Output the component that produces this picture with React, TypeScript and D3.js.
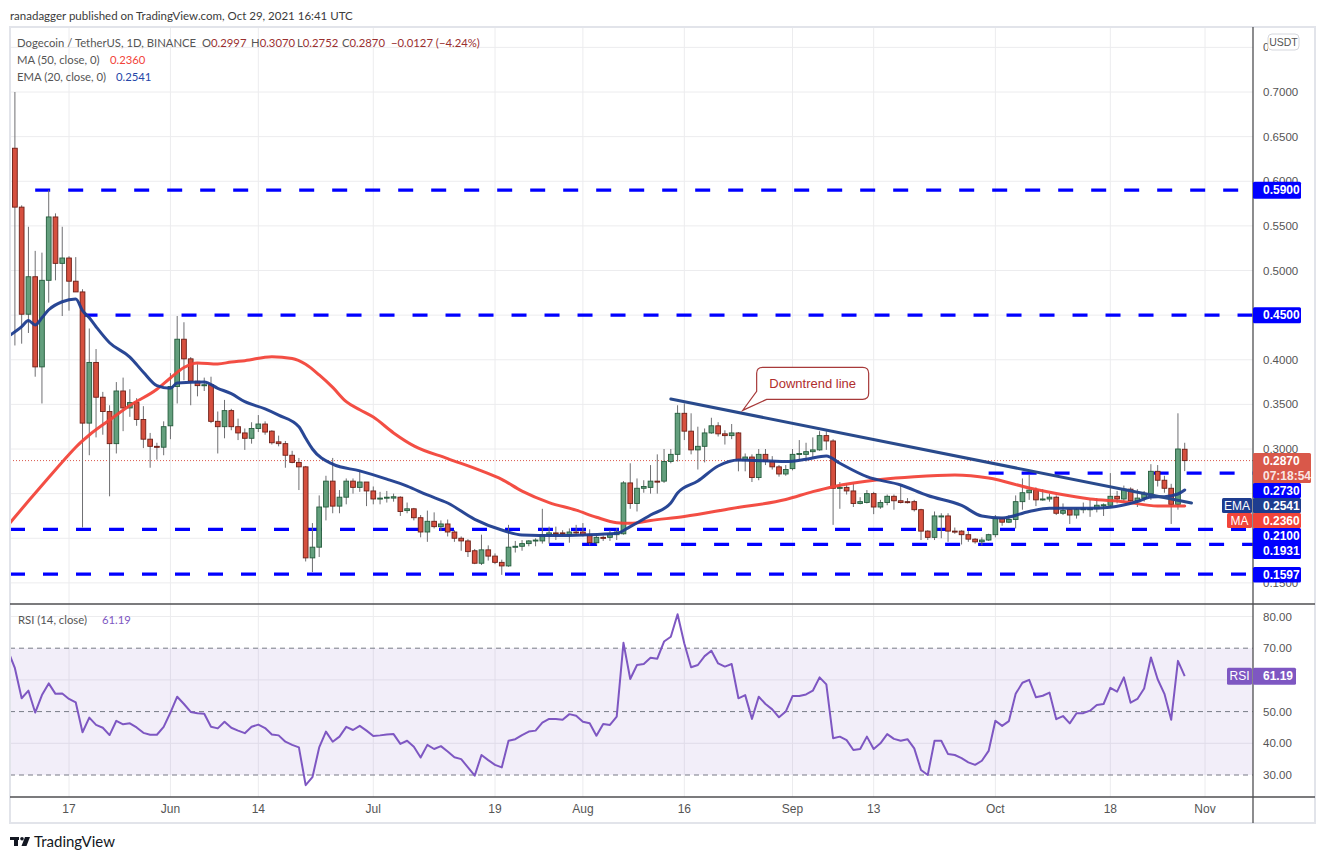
import React from "react";
import * as d3 from "d3";

// ---------------- DATA ----------------
const FIRST_DAY = "2021-05-08";
// daily candles [open, high, low, close], from FIRST_DAY
const ohlc: number[][] = [
  [0.690,0.700,0.630,0.637],[0.637,0.700,0.416,0.571],[0.571,0.573,0.418,0.451],[0.451,0.549,0.430,0.493],
  [0.493,0.522,0.381,0.392],[0.392,0.520,0.351,0.489],[0.489,0.590,0.464,0.560],[0.560,0.564,0.489,0.508],
  [0.508,0.549,0.449,0.514],[0.514,0.516,0.455,0.488],[0.488,0.515,0.476,0.476],[0.476,0.479,0.212,0.329],
  [0.329,0.435,0.293,0.397],[0.397,0.412,0.313,0.358],[0.358,0.364,0.316,0.342],[0.342,0.349,0.247,0.306],
  [0.306,0.375,0.295,0.365],[0.365,0.380,0.320,0.346],[0.346,0.367,0.336,0.352],[0.352,0.357,0.326,0.333],
  [0.333,0.348,0.301,0.311],[0.311,0.318,0.279,0.303],[0.303,0.307,0.288,0.302],[0.302,0.331,0.293,0.325],
  [0.326,0.385,0.311,0.370],[0.370,0.449,0.351,0.423],[0.423,0.442,0.377,0.401],[0.401,0.403,0.349,0.376],
  [0.376,0.395,0.359,0.371],[0.371,0.380,0.365,0.372],[0.372,0.381,0.329,0.331],[0.331,0.342,0.295,0.325],
  [0.325,0.355,0.312,0.343],[0.343,0.345,0.321,0.325],[0.325,0.334,0.310,0.318],[0.318,0.323,0.299,0.312],
  [0.312,0.330,0.306,0.323],[0.323,0.338,0.319,0.328],[0.328,0.331,0.316,0.319],[0.320,0.321,0.305,0.307],
  [0.308,0.315,0.303,0.306],[0.306,0.309,0.279,0.293],[0.293,0.298,0.284,0.285],[0.285,0.290,0.254,0.280],
  [0.280,0.281,0.174,0.178],[0.178,0.217,0.162,0.190],[0.190,0.248,0.179,0.235],[0.235,0.270,0.220,0.264],
  [0.264,0.290,0.228,0.236],[0.236,0.254,0.228,0.246],[0.246,0.267,0.238,0.264],[0.264,0.267,0.250,0.257],
  [0.257,0.276,0.252,0.263],[0.263,0.263,0.236,0.253],[0.253,0.258,0.238,0.244],[0.244,0.252,0.238,0.245],
  [0.245,0.253,0.240,0.246],[0.245,0.250,0.241,0.2465],[0.246,0.247,0.225,0.230],[0.231,0.240,0.228,0.233],
  [0.233,0.234,0.220,0.223],[0.223,0.226,0.201,0.207],[0.207,0.231,0.196,0.219],[0.219,0.229,0.211,0.213],
  [0.213,0.220,0.208,0.216],[0.216,0.221,0.202,0.207],[0.207,0.209,0.196,0.200],[0.200,0.202,0.186,0.197],
  [0.197,0.199,0.179,0.185],[0.186,0.188,0.171,0.172],[0.172,0.204,0.170,0.187],[0.187,0.192,0.175,0.180],
  [0.180,0.183,0.171,0.173],[0.173,0.176,0.159,0.169],[0.169,0.215,0.168,0.190],[0.190,0.197,0.184,0.191],
  [0.191,0.198,0.186,0.194],[0.194,0.198,0.191,0.197],[0.197,0.200,0.191,0.198],[0.197,0.233,0.194,0.204],
  [0.204,0.213,0.194,0.206],[0.206,0.213,0.198,0.205],[0.206,0.209,0.203,0.205],[0.204,0.211,0.195,0.207],
  [0.207,0.215,0.203,0.206],[0.207,0.217,0.202,0.204],[0.204,0.210,0.192,0.195],[0.195,0.203,0.193,0.201],
  [0.201,0.203,0.197,0.2005],[0.201,0.209,0.197,0.205],[0.204,0.211,0.198,0.207],[0.205,0.264,0.204,0.262],
  [0.262,0.284,0.233,0.239],[0.239,0.267,0.230,0.256],[0.256,0.265,0.251,0.258],[0.257,0.282,0.250,0.264],
  [0.264,0.294,0.250,0.263],[0.264,0.300,0.262,0.286],[0.286,0.300,0.284,0.294],[0.294,0.349,0.286,0.340],
  [0.340,0.351,0.310,0.320],[0.320,0.340,0.294,0.299],[0.299,0.325,0.277,0.303],[0.303,0.323,0.285,0.318],
  [0.318,0.335,0.317,0.326],[0.326,0.330,0.314,0.317],[0.317,0.321,0.305,0.315],[0.315,0.328,0.311,0.318],
  [0.318,0.319,0.275,0.288],[0.288,0.295,0.275,0.291],[0.291,0.294,0.263,0.268],[0.268,0.300,0.265,0.294],
  [0.294,0.300,0.282,0.286],[0.286,0.292,0.277,0.280],[0.280,0.282,0.269,0.272],[0.272,0.282,0.270,0.277],
  [0.278,0.300,0.276,0.294],[0.294,0.310,0.288,0.295],[0.294,0.307,0.286,0.297],[0.297,0.313,0.291,0.299],
  [0.299,0.320,0.298,0.315],[0.315,0.320,0.299,0.309],[0.309,0.311,0.215,0.256],[0.256,0.263,0.233,0.257],
  [0.257,0.261,0.249,0.253],[0.253,0.261,0.235,0.239],[0.239,0.246,0.238,0.241],[0.240,0.254,0.239,0.250],
  [0.250,0.252,0.227,0.235],[0.235,0.243,0.233,0.240],[0.240,0.249,0.237,0.247],[0.247,0.249,0.232,0.242],
  [0.242,0.260,0.239,0.240],[0.241,0.245,0.239,0.240],[0.241,0.243,0.230,0.232],[0.232,0.233,0.198,0.208],
  [0.208,0.209,0.198,0.201],[0.201,0.230,0.198,0.225],[0.224,0.228,0.200,0.225],[0.225,0.228,0.196,0.208],
  [0.208,0.212,0.205,0.207],[0.208,0.209,0.193,0.204],[0.204,0.208,0.196,0.199],[0.199,0.200,0.194,0.196],
  [0.196,0.201,0.192,0.198],[0.198,0.205,0.197,0.204],[0.204,0.226,0.201,0.222],[0.222,0.224,0.214,0.218],
  [0.218,0.226,0.217,0.221],[0.221,0.248,0.211,0.241],[0.241,0.267,0.232,0.251],[0.251,0.271,0.243,0.254],
  [0.254,0.257,0.236,0.243],[0.243,0.255,0.242,0.244],[0.244,0.250,0.241,0.246],[0.246,0.248,0.226,0.228],
  [0.228,0.239,0.226,0.231],[0.232,0.233,0.216,0.226],[0.226,0.234,0.222,0.232],[0.232,0.240,0.228,0.233],
  [0.232,0.243,0.224,0.233],[0.233,0.245,0.229,0.237],[0.237,0.239,0.225,0.2375],[0.237,0.273,0.235,0.247],
  [0.247,0.253,0.239,0.244],[0.244,0.259,0.241,0.255],[0.255,0.257,0.241,0.242],[0.242,0.255,0.235,0.245],
  [0.245,0.253,0.241,0.250],[0.250,0.283,0.243,0.275],[0.275,0.282,0.258,0.265],[0.265,0.270,0.251,0.256],
  [0.256,0.261,0.216,0.238],[0.238,0.340,0.232,0.300],[0.2997,0.3070,0.2752,0.2870],
];

// RSI(14) daily values, from FIRST_DAY
const rsiValues: number[] = [
  69.1,63.7,54.2,56.6,49.7,55.2,58.9,55.6,55.7,54.0,52.9,43.5,48.1,45.8,44.9,42.6,47.1,46.0,46.3,45.0,
  43.3,42.7,42.7,45.2,49.7,54.7,52.4,49.9,49.5,49.3,45.2,44.7,46.8,44.9,44.0,43.2,45.2,45.9,44.8,42.8,
  42.5,40.5,39.5,38.7,26.8,29.3,38.7,43.7,40.5,42.1,45.2,44.2,45.5,44.0,42.3,42.5,42.8,42.9,39.8,40.8,
  38.9,35.5,39.5,38.2,39.1,37.4,35.6,35.0,32.4,29.8,36.3,34.7,33.2,32.4,40.8,41.3,42.6,43.7,44.0,46.5,
  47.7,47.7,47.4,49.2,48.7,46.8,46.3,42.4,46.1,45.8,48.4,71.7,60.3,64.7,65.0,67.0,66.7,72.1,73.6,80.7,
  71.5,64.0,64.7,67.5,69.2,65.2,64.2,65.0,54.2,55.2,47.7,54.7,52.4,50.7,48.2,50.0,54.9,54.9,55.4,56.6,
  60.8,58.6,41.6,42.1,41.0,37.9,38.2,42.1,38.2,40.0,42.9,41.4,40.8,41.3,38.4,31.6,30.0,40.8,40.8,36.6,
  36.3,35.3,34.0,33.2,34.5,37.6,47.1,45.5,47.0,55.6,59.1,60.0,54.5,55.0,56.0,47.6,48.6,46.3,49.5,49.5,
  50.3,52.1,52.4,57.5,56.3,60.8,52.8,54.0,57.3,67.1,60.2,55.6,47.4,66.0,61.19,
];

// EMA(20)
const emaPoints: [string, number][] = [
  ["2021-05-08",0.426],["2021-05-10",0.437],["2021-05-11",0.444],["2021-05-12",0.439],["2021-05-13",0.447],
  ["2021-05-14",0.456],["2021-05-16",0.465],["2021-05-18",0.468],["2021-05-19",0.455],["2021-05-20",0.447],
  ["2021-05-21",0.437],["2021-05-23",0.419],["2021-05-26",0.403],["2021-05-28",0.386],["2021-05-30",0.371],
  ["2021-06-01",0.368],["2021-06-02",0.374],["2021-06-06",0.375],["2021-06-08",0.368],["2021-06-10",0.362],
  ["2021-06-12",0.353],["2021-06-15",0.345],["2021-06-17",0.338],["2021-06-20",0.325],["2021-06-21",0.312],
  ["2021-06-22",0.300],["2021-06-25",0.283],["2021-06-29",0.2755],["2021-07-03",0.2663],
  ["2021-07-06",0.2585],["2021-07-09",0.2485],["2021-07-12",0.2395],["2021-07-16",0.2212],["2021-07-20",0.2092],
  ["2021-07-23",0.2036],["2021-07-28",0.2030],["2021-08-01",0.2036],["2021-08-06",0.2055],["2021-08-08",0.213],
  ["2021-08-11",0.226],["2021-08-14",0.2395],["2021-08-15",0.2507],["2021-08-18",0.2641],["2021-08-21",0.281],
  ["2021-08-24",0.2877],["2021-08-31",0.286],["2021-09-03",0.2885],["2021-09-06",0.2922],["2021-09-08",0.284],
  ["2021-09-12",0.269],["2021-09-17",0.2597],["2021-09-21",0.2479],["2021-09-26",0.2367],["2021-09-29",0.2249],
  ["2021-10-02",0.2227],["2021-10-06",0.230],["2021-10-09",0.2336],["2021-10-15",0.2336],["2021-10-18",0.2347],
  ["2021-10-22",0.2412],["2021-10-24",0.2462],["2021-10-26",0.2466],["2021-10-28",0.2496],["2021-10-29",0.2541],
];

// MA(50)
const maPoints: [string, number][] = [
  ["2021-05-08",0.2148],["2021-05-11",0.2417],["2021-05-14",0.268],["2021-05-17",0.2938],["2021-05-18",0.302],
  ["2021-05-20",0.3157],["2021-05-23",0.3325],["2021-05-26",0.3487],["2021-05-30",0.3669],["2021-06-01",0.3796],
  ["2021-06-03",0.3913],["2021-06-05",0.3964],["2021-06-08",0.3952],["2021-06-10",0.3975],["2021-06-12",0.399],
  ["2021-06-16",0.4035],["2021-06-19",0.4015],["2021-06-21",0.395],["2021-06-23",0.383],["2021-06-25",0.369],
  ["2021-06-27",0.353],["2021-06-29",0.344],["2021-07-01",0.3358],["2021-07-04",0.318],["2021-07-07",0.3035],
  ["2021-07-12",0.2893],["2021-07-17",0.2755],["2021-07-20",0.266],["2021-07-23",0.2528],["2021-07-27",0.240],
  ["2021-07-31",0.2315],["2021-08-03",0.2235],["2021-08-06",0.2174],["2021-08-08",0.2167],["2021-08-11",0.2199],
  ["2021-08-16",0.2244],["2021-08-23",0.2333],["2021-08-31",0.2434],["2021-09-04",0.2522],["2021-09-07",0.2578],
  ["2021-09-14",0.2658],["2021-09-19",0.269],["2021-09-25",0.2709],["2021-09-30",0.2675],["2021-10-06",0.2563],
  ["2021-10-10",0.2501],["2021-10-15",0.244],["2021-10-20",0.241],["2021-10-25",0.2361],["2021-10-29",0.2360],
];

// horizontal support / resistance levels and the date they start
const levelValues = [0.59, 0.45, 0.273, 0.21, 0.1931, 0.1597];
const levelStarts = ["2021-05-12", "2021-05-19", "2021-09-30", "2021-05-08", "2021-07-27", "2021-05-08"];

// downtrend line end points
const trendDates = ["2021-08-14", "2021-10-30"];
const trendValues = [0.356, 0.2395];

const priceTicks = [0.15,0.2,0.25,0.3,0.35,0.4,0.45,0.5,0.55,0.6,0.65,0.7,0.75];
const rsiTicks = [80, 70, 60, 50, 40, 30];
const rsiBands = [70, 50, 30];
const rsiGrid = [80, 60, 40];
const timeTickDates = ["2021-05-17","2021-06-01","2021-06-14","2021-07-01","2021-07-19","2021-08-01",
  "2021-08-16","2021-09-01","2021-09-13","2021-10-01","2021-10-18","2021-11-01"];
const timeTickLabels = ["17","Jun","14","Jul","19","Aug","16","Sep","13","Oct","18","Nov"];

const lastPrice = 0.287;
const maLast = 0.236;
const emaLast = 0.2541;
const rsiLast = 61.19;

// ---------------- LAYOUT ----------------
const W = 1325, H = 859;
const L = 10, R = 1253, T = 27, MB = 604, RB = 797, FR = 1315, FB = 823;
const FONT = "'Liberation Sans', Arial, sans-serif";
const LFONT = "Lato, 'Liberation Sans', sans-serif";
const LS = 11.3; // legend font size
const GRID = "#ececee";
const LEVEL_BLUE = "#0000ff";
const EMA_C = "#1e3d8f";
const MA_C = "#f2443a";
const RSI_C = "#7e57c2";
const UP_F = "#639f7d", UP_S = "#245c3c", DN_F = "#d6503f", DN_S = "#6d1f17";

export default function App() {
  const parse = d3.utcParse("%Y-%m-%d");
  const P = (s: string) => parse(s) as Date;
  const first = P(FIRST_DAY);
  const x = d3.scaleUtc().domain([P("2021-05-17"), P("2021-11-01")]).range([69, 1205]);
  const y = d3.scaleLinear().domain([0.3, 0.7]).range([449, 92]);
  const yR = d3.scaleLinear().domain([30, 80]).range([775, 616.5]);
  const dayX = (i: number) => x(d3.utcDay.offset(first, i));
  const step = dayX(1) - dayX(0);
  const bw = step * 0.7;

  const emaPath = d3.line<[string, number]>().x(d => x(P(d[0]))).y(d => y(d[1])).curve(d3.curveMonotoneX)(emaPoints) || "";
  const maPath = d3.line<[string, number]>().x(d => x(P(d[0]))).y(d => y(d[1])).curve(d3.curveMonotoneX)(maPoints) || "";
  const rsiPath = d3.line<number>().x((_, i) => dayX(i)).y(d => yR(d)).curve(d3.curveLinear)(rsiValues) || "";

  const t0x = x(P(trendDates[0])), t0y = y(trendValues[0]);
  const t1x = x(P(trendDates[1])), t1y = y(trendValues[1]);
  // callout tip on the trend line
  const tipX = t0x + (t1x - t0x) * 0.138;
  const tipY = t0y + (t1y - t0y) * 0.138 - 3;
  const bL = tipX + 14, bT = tipY - 43, bR = bL + 112, bB = bT + 32, rr = 6;
  const callout = `M${bL + rr},${bT} H${bR - rr} Q${bR},${bT} ${bR},${bT + rr} V${bB - rr} Q${bR},${bB} ${bR - rr},${bB} H${bL + 10} L${tipX},${tipY} L${bL},${bB - 8} V${bT + rr} Q${bL},${bT} ${bL + rr},${bT} Z`;

  const fmt4 = d3.format(".4f");
  const fmt2 = d3.format(".2f");

  // price tags (stacked on the price axis)
  const tags = [
    { key: "t59", top: y(0.59) - 8.5, h: 17, color: LEVEL_BLUE, lines: [fmt4(0.59)], w: 48 },
    { key: "t45", top: y(0.45) - 8, h: 16, color: LEVEL_BLUE, lines: [fmt4(0.45)], w: 48 },
    { key: "last", top: 453, h: 30, color: "#d9584a", lines: [fmt4(lastPrice), "07:18:54"], w: 58 },
    { key: "t273", top: 483, h: 15, color: LEVEL_BLUE, lines: [fmt4(0.273)], w: 48 },
    { key: "tema", top: 498, h: 15, color: EMA_C, lines: [fmt4(emaLast)], w: 48 },
    { key: "tma", top: 513, h: 15, color: MA_C, lines: [fmt4(maLast)], w: 48 },
    { key: "t21", top: 528, h: 31, color: LEVEL_BLUE, lines: [fmt4(0.21), fmt4(0.1931)], w: 48 },
    { key: "t1597", top: 567, h: 15.5, color: LEVEL_BLUE, lines: [fmt4(0.1597)], w: 48 },
  ];
  const rsiTag = { top: yR(rsiLast) - 8.5, h: 17 };
  const hiddenBy = (yy: number, boxes: { top: number; h: number }[]) => boxes.some(b => yy > b.top + 1 && yy < b.top + b.h - 1);

  return (
    <div style={{ position: "absolute", left: 0, top: 0, width: W, height: H, background: "#fff" }}>
      <svg width={W} height={H} style={{ display: "block" }}>
        <defs>
          <clipPath id="mainClip"><rect x={L} y={T} width={R - L} height={MB - T} /></clipPath>
          <clipPath id="rsiClip"><rect x={L} y={MB} width={R - L} height={RB - MB} /></clipPath>
          <clipPath id="axisTopClip"><rect x={R} y={T} width={1268 - R} height={30} /></clipPath>
        </defs>
        <rect width={W} height={H} fill="#fff" />

        {/* header */}
        <text x={10} y={19.5} fontSize={11.5} fill="#3b3b3b" fontFamily={LFONT}>ranadagger published on TradingView.com, Oct 29, 2021 16:41 UTC</text>

        {/* grid */}
        {priceTicks.map(p => (
          <line key={"hp" + p} x1={L} x2={R} y1={y(p)} y2={y(p)} stroke={GRID} strokeWidth={1} />
        ))}
        {rsiGrid.map(v => (
          <line key={"hr" + v} x1={L} x2={R} y1={yR(v)} y2={yR(v)} stroke={GRID} strokeWidth={1} />
        ))}
        {timeTickDates.map(d => (
          <line key={"v" + d} x1={x(P(d))} x2={x(P(d))} y1={T} y2={RB} stroke={GRID} strokeWidth={1} />
        ))}

        {/* RSI pane band */}
        <rect x={L} y={yR(70)} width={R - L} height={yR(30) - yR(70)} fill={RSI_C} fillOpacity={0.1} />
        {rsiBands.map(v => (
          <line key={"rb" + v} x1={L} x2={R} y1={yR(v)} y2={yR(v)} stroke="#787b86" strokeWidth={1} strokeDasharray="5 4" />
        ))}
        <g clipPath="url(#rsiClip)">
          <path d={rsiPath} fill="none" stroke={RSI_C} strokeWidth={2} strokeLinejoin="round" />
        </g>

        {/* main pane */}
        <g clipPath="url(#mainClip)">
          {levelValues.map((v, k) => {
            const sx = Math.max(L, x(P(levelStarts[k])));
            return <line key={"lv" + v} x1={sx} x2={R} y1={y(v)} y2={y(v)} stroke={LEVEL_BLUE} strokeWidth={3.2} strokeDasharray="15 18" />;
          })}
          <line x1={L} x2={R} y1={y(lastPrice)} y2={y(lastPrice)} stroke="#d9584a" strokeWidth={1} strokeDasharray="1 2" />
          {ohlc.map((c, i) => {
            const [o, h, l, cl] = c;
            const cx = dayX(i);
            const up = cl >= o;
            const top = y(Math.max(o, cl)), bot = y(Math.min(o, cl));
            return (
              <g key={"c" + i}>
                <line x1={cx} x2={cx} y1={y(h)} y2={y(l)} stroke="#6f6f72" strokeWidth={1} />
                <rect x={cx - bw / 2} y={top} width={bw} height={Math.max(1, bot - top)}
                  fill={up ? UP_F : DN_F} stroke={up ? UP_S : DN_S} strokeWidth={0.9} />
              </g>
            );
          })}
          <path d={maPath} fill="none" stroke={MA_C} strokeWidth={3} strokeOpacity={0.95} strokeLinecap="round" />
          <path d={emaPath} fill="none" stroke={EMA_C} strokeWidth={3} strokeOpacity={0.95} strokeLinecap="round" />
          <line x1={t0x} y1={t0y} x2={t1x} y2={t1y} stroke="#294a8c" strokeWidth={3} strokeLinecap="round" />
          <path d={callout} fill="#fff" stroke="#a73a3a" strokeWidth={1.2} />
          <text x={(bL + bR) / 2} y={(bT + bB) / 2} dy="0.35em" textAnchor="middle" fontSize={13} fill="#b02e2e" fontFamily={FONT}>Downtrend line</text>
        </g>

        {/* legend */}
        <text x={17} y={46.5} fontSize={LS} fontFamily={LFONT} fill="#555">Dogecoin / TetherUS, 1D, BINANCE</text>
        {[["O", "0.2997", 202], ["H", "0.3070", 251], ["L", "0.2752", 297], ["C", "0.2870", 342]].map(([k, v, px]) => (
          <text key={k as string} x={px as number} y={46.5} fontSize={LS} fontFamily={LFONT} fill="#555">
            {k}<tspan fill="#9a2f2f">{v}</tspan>
          </text>
        ))}
        <text x={391} y={46.5} fontSize={LS} fontFamily={LFONT} fill="#9a2f2f">−0.0127 (−4.24%)</text>
        <text x={17} y={63.5} fontSize={LS} fontFamily={LFONT} fill="#555">MA (50, close, 0)</text>
        <text x={110} y={63.5} fontSize={LS} fontFamily={LFONT} fill={MA_C}>{fmt4(maLast)}</text>
        <text x={17} y={80.5} fontSize={LS} fontFamily={LFONT} fill="#555">EMA (20, close, 0)</text>
        <text x={116} y={80.5} fontSize={LS} fontFamily={LFONT} fill="#2546a8">{fmt4(emaLast)}</text>
        <text x={18} y={624} fontSize={LS} fontFamily={LFONT} fill="#555">RSI (14, close)</text>
        <text x={102} y={624} fontSize={LS} fontFamily={LFONT} fill={RSI_C}>{fmt2(rsiLast)}</text>

        {/* pane borders */}
        <rect x={L} y={T} width={FR - L} height={FB - T} fill="none" stroke="#e2e4ea" strokeWidth={2} />
        <line x1={L} x2={FR} y1={MB} y2={MB} stroke="#4f4f52" strokeWidth={1.3} />
        <line x1={L} x2={FR} y1={RB} y2={RB} stroke="#4f4f52" strokeWidth={1.3} />
        <line x1={R} x2={R} y1={T} y2={FB} stroke="#4f4f52" strokeWidth={1.3} />

        {/* price axis labels */}
        {priceTicks.filter(p => !hiddenBy(y(p), tags) && p < 0.74).map(p => (
          <text key={"pl" + p} x={1263} y={y(p)} dy="0.35em" fontSize={11.5} fill="#555" fontFamily={FONT}>{fmt4(p)}</text>
        ))}
        {/* top tick label, mostly hidden behind the currency box */}
        <g clipPath="url(#axisTopClip)">
          <text x={1263} y={y(0.75)} dy="0.35em" fontSize={11.5} fill="#555" fontFamily={FONT}>{fmt4(0.75).slice(0, 1)}</text>
        </g>
        {rsiTicks.filter(v => !hiddenBy(yR(v), [rsiTag])).map(v => (
          <text key={"rl" + v} x={1263} y={yR(v)} dy="0.35em" fontSize={11.5} fill="#555" fontFamily={FONT}>{fmt2(v)}</text>
        ))}
        {/* USDT box */}
        <rect x={1268} y={34} width={31} height={16} rx={4} fill="#fff" stroke="#d6d8de" strokeWidth={1} />
        <text x={1283.5} y={42} dy="0.35em" textAnchor="middle" fontSize={10.5} fill="#555" fontFamily={FONT}>USDT</text>

        {/* price tags */}
        {tags.map(t => (
          <g key={t.key}>
            <rect x={R} y={t.top} width={t.w} height={t.h} fill={t.color} rx={1.5} />
            {t.lines.map((s, k) => (
              <text key={k} x={R + 10} y={t.top + t.h / t.lines.length / 2 + k * (t.h / t.lines.length)} dy="0.35em" fill="#fff"
                fontSize={12} fontWeight="bold" fontFamily={FONT} opacity={k === 1 && t.key === "last" ? 0.85 : 1}>{s}</text>
            ))}
          </g>
        ))}
        <rect x={1222} y={498} width={30} height={15} fill={EMA_C} rx={1.5} />
        <text x={1237} y={505.5} dy="0.35em" textAnchor="middle" fill="#fff" fontSize={12} fontFamily={FONT}>EMA</text>
        <rect x={1227} y={513} width={25} height={15} fill={MA_C} rx={1.5} />
        <text x={1239.5} y={520.5} dy="0.35em" textAnchor="middle" fill="#fff" fontSize={12} fontFamily={FONT}>MA</text>
        {/* RSI tag */}
        <rect x={1227} y={rsiTag.top} width={25} height={rsiTag.h} fill={RSI_C} rx={1.5} />
        <text x={1239.5} y={yR(rsiLast)} dy="0.35em" textAnchor="middle" fill="#fff" fontSize={12} fontFamily={FONT}>RSI</text>
        <rect x={R} y={rsiTag.top} width={43} height={rsiTag.h} fill={RSI_C} rx={1.5} />
        <text x={R + 10} y={yR(rsiLast)} dy="0.35em" fill="#fff" fontSize={12} fontWeight="bold" fontFamily={FONT}>{fmt2(rsiLast)}</text>

        {/* time axis */}
        {timeTickDates.map((d, k) => (
          <text key={"tl" + d} x={x(P(d))} y={809} dy="0.35em" textAnchor="middle" fontSize={12} fill="#555" fontFamily={FONT}>{timeTickLabels[k]}</text>
        ))}

        {/* TradingView logo */}
        <g fill="#131722">
          <rect x={10} y={837} width={9} height={3} />
          <rect x={14} y={837} width={4} height={9} />
          <circle cx={22} cy={838.8} r={1.8} />
          <path d="M25,837 L30,837 L26.5,846 L21.5,846 Z" />
        </g>
        <text x={34} y={847} fontSize={15} fill="#131722" fontFamily={LFONT}>TradingView</text>
      </svg>
    </div>
  );
}
